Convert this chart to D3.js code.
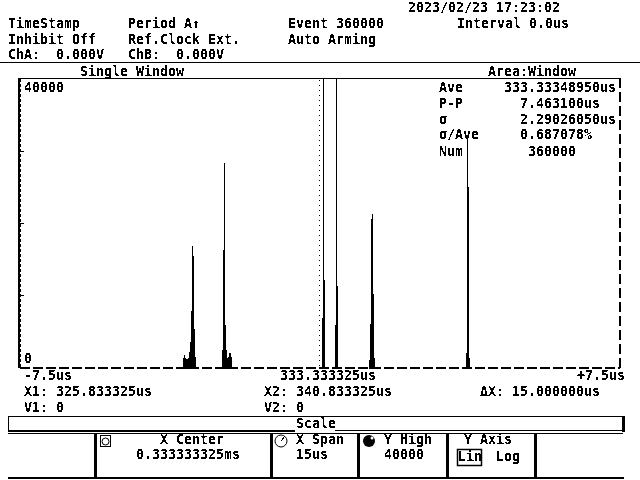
<!DOCTYPE html>
<html><head><meta charset="utf-8">
<script src="https://cdnjs.cloudflare.com/ajax/libs/d3/7.8.5/d3.min.js"></script>
<style>html,body{margin:0;padding:0;background:#fff}svg{display:block}
text{font-family:"DejaVu Sans Mono",monospace;font-size:13.3px;font-weight:bold;fill:#000;white-space:pre}
</style></head><body><svg id="c" width="640" height="480"></svg>
<script>
const binStartUs=[-3.4,-3.375,-3.35,-3.325,-3.3,-3.275,-3.25,-3.225,-3.2,-3.175,-3.15,-3.125,-3.1,
-2.425,-2.4,-2.375,-2.35,-2.325,-2.3,-2.275,-2.25,-2.225,-2.2,
0.075,0.1,0.125,
0.4,0.425,0.45,
1.25,1.275,1.3,1.325,1.35,1.375,
3.675,3.7,3.725,3.75];
const binCount=[1250,1670,1250,1110,1110,1250,2080,3470,7780,16800,15400,5280,1390,
2360,16250,28300,5830,2360,1250,1390,1940,1940,1390,
6800,40000,12080,
5830,40000,11250,
970,5970,20550,21250,10140,1250,
1940,32200,25000,1250];
const binWidthUs=0.025;
const xDomainUs=[-7.5,7.5];
const yDomain=[0,40000];
const yTicks=[10000,20000,30000];
const headerTexts=[["TimeStamp",8,28],["Inhibit Off",8,44],["ChA:  0.000V",8,59],
["Period A↑",128,28],["Ref.Clock Ext.",128,44],["ChB:  0.000V",128,59],
["Event 360000",288,28],["Auto Arming",288,44],
["2023/02/23 17:23:02",408,12],["Interval 0.0us",457,28],
["Single Window",80,76],["Area:Window",488,76]];
const statTexts=[["Ave",439,92],["333.33348950us",504,92],["P-P",439,108],["7.463100us",520,108],
["σ",439,124],["2.29026050us",520,124],["σ/Ave",439,139],["0.687078%",520,139],["Num",439,156],["360000",528,156]];
const yLabels=[["40000",24,92],["0",24,363]];
const footerTexts=[["-7.5us",24,380],["333.333325us",280,380],["+7.5us",577,380],
["X1: 325.833325us",24,396],["X2: 340.833325us",264,396],["ΔX: 15.000000us",480,396],
["V1: 0",24,412],["V2: 0",264,412],["Scale",296,428],
["X Center",160,444],["0.333333325ms",136,459],["X Span",296,444],["15us",296,459],
["Y High",384,444],["40000",384,459],["Y Axis",464,444],["Lin",458,461],["Log",496,461]];

const svg=d3.select("#c");
const defs=svg.append("defs");
const f=defs.append("filter").attr("id","bit").attr("x",0).attr("y",0).attr("width",1).attr("height",1);
f.append("feComponentTransfer").append("feFuncA").attr("type","discrete").attr("tableValues","0 0 1 1");

const x=d3.scaleLinear().domain(xDomainUs).range([19,619]);
const y=d3.scaleLinear().domain(yDomain).range([367,79]);

const line=(x1,y1,x2,y2,w=1,dash)=>svg.append("line").attr("x1",x1).attr("y1",y1).attr("x2",x2).attr("y2",y2)
  .attr("stroke","#000").attr("stroke-width",w).attr("stroke-dasharray",dash||null).attr("shape-rendering","crispEdges");

line(0,62.5,640,62.5);
line(19,78,19,368,2);
line(18,78.5,621,78.5,1);
line(620,78,620,368,2,"10 4");
line(20,368,620,368,2,"10 3");
line(20.5,79,20.5,367,1,"3 2");
const axis=d3.axisLeft(y).tickValues(yTicks).tickSize(-4).tickFormat("");
const g=svg.append("g").attr("transform","translate(19.5,0)").call(axis);
g.select(".domain").remove();
g.selectAll("line").attr("stroke","#000").attr("shape-rendering","crispEdges");
line(319.5,80,319.5,366,1,"1 4");
svg.append("g").selectAll("rect").data(binStartUs).join("rect")
 .attr("x",d=>x(d)).attr("width",d=>x(d+binWidthUs)-x(d))
 .attr("y",(d,i)=>y(binCount[i])).attr("height",(d,i)=>y(0)-y(binCount[i])+2)
 .attr("fill","#000").attr("shape-rendering","crispEdges");

line(8,416.5,623,416.5);
line(8.5,416,8.5,432);
line(8,430.5,295,430.5,2);
line(335,430.5,623,430.5,1);
line(8,433.5,623,433.5);
line(8,477.5,624,477.5,2);
line(623,416,623,432,3);
[95,271,358.5,447,535].forEach(v=>line(v,433,v,478,3));
svg.append("rect").attr("x",100.5).attr("y",435.5).attr("width",10).attr("height",11).attr("fill","none").attr("stroke","#000");
svg.append("circle").attr("cx",105.5).attr("cy",441.5).attr("r",3.5).attr("fill","none").attr("stroke","#000");
svg.append("circle").attr("cx",281).attr("cy",441).attr("r",6).attr("fill","#fff").attr("stroke","#000");
line(281,441,285,436);
svg.append("circle").attr("cx",369).attr("cy",441).attr("r",6).attr("fill","#000");
svg.append("circle").attr("cx",372).attr("cy",438).attr("r",1.5).attr("fill","#fff");
svg.append("rect").attr("x",457.5).attr("y",449.5).attr("width",24).attr("height",16).attr("fill","none").attr("stroke","#000").attr("stroke-width",1.5);

const tg=svg.append("g").attr("filter","url(#bit)");
tg.selectAll("text").data([...headerTexts,...statTexts,...yLabels,...footerTexts]).join("text")
 .attr("x",d=>d[1]).attr("y",d=>d[2]).text(d=>d[0]);
</script></body></html>
